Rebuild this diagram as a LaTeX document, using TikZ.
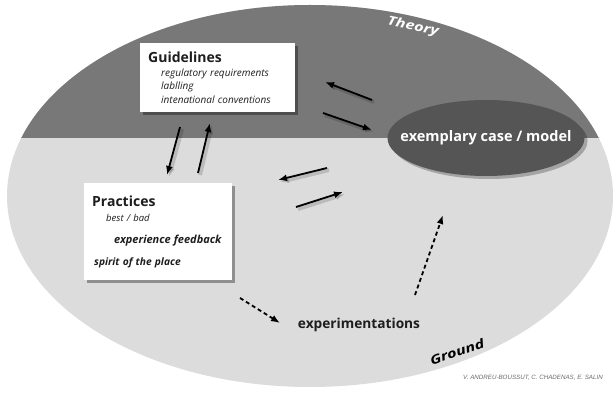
\documentclass[tikz,border=0pt]{standalone}
\usepackage{fontspec}
\setmainfont{Open Sans}
\newfontfamily\creditfont{Liberation Sans}
\newfontfamily\levelfont[FakeStretch=1.3]{Open Sans}
\usetikzlibrary{arrows.meta,shadows,shapes.geometric}
\definecolor{theorygray}{HTML}{787878}
\definecolor{groundgray}{HTML}{DCDCDC}
\definecolor{modelgray}{HTML}{555555}
\definecolor{ink}{HTML}{1E1E1E}
\definecolor{creditgray}{HTML}{6A6A6A}
\tikzset{
  card/.style={
    rectangle,
    fill=white,
    anchor=north west,
    align=left,
    inner xsep=8pt,
    inner ysep=4pt,
    text=ink,
    drop shadow={shadow xshift=3pt, shadow yshift=-3pt, fill=black, opacity=0.35}
  },
  modelnode/.style={
    ellipse,
    fill=modelgray,
    inner sep=0pt,
    minimum width=197pt,
    minimum height=76pt,
    drop shadow={shadow xshift=3pt, shadow yshift=-3pt, fill=black, opacity=0.25}
  },
  modeltext/.style={
    text=white,
    font=\fontsize{14.5}{16}\selectfont\bfseries
  },
  levellabel/.style={
    font=\levelfont\fontsize{12.5}{15}\selectfont\bfseries\itshape,
    inner sep=1pt
  },
  flow/.style={
    -{Latex[length=9pt,width=7pt]},
    draw=black,
    line width=1.8pt,
    preaction={draw=black, opacity=0.15, line width=4pt,
      transform canvas={shift={(2pt,-2pt)}}}
  },
  trialflow/.style={
    -{Latex[length=9pt,width=7pt]},
    draw=black,
    line width=1.8pt,
    dash pattern=on 4pt off 3pt
  }
}

\begin{document}
\begin{tikzpicture}[x=1pt, y=-1pt]
\useasboundingbox (0,0) rectangle (614,395);

% Background: ground (light) with the theory cap (dark).
\fill[groundgray] (310,196) ellipse [x radius=303pt, y radius=191pt];
\begin{scope}
  \clip (310,196) ellipse [x radius=303pt, y radius=191pt];
  \fill[theorygray] (0,0) rectangle (614,138);
\end{scope}

\node[levellabel, text=white, rotate=-12] (theory) at (413,27) {Theory};
\node[levellabel, text=black, rotate=19] (ground) at (457,352) {Ground};

% Boxes.
\node[card, text width=139pt, minimum height=69pt,
  font=\fontsize{10}{13.5}\selectfont\itshape] (guide) at (140,43) {
  {\fontsize{14}{14}\selectfont\bfseries\upshape Guidelines}\\
  \hspace*{13pt}regulatory requirements\\
  \hspace*{13pt}lablling\\
  \hspace*{13pt}intenational conventions
};
\node[card, text width=132pt, minimum height=97pt,
  font=\fontsize{9.5}{14}\selectfont\itshape] (practice) at (84,183) {
  {\fontsize{14}{14}\selectfont\bfseries\upshape Practices}\\[1pt]
  \hspace*{14pt}best / bad\\[8pt]
  \hspace*{22pt}{\fontsize{11}{14}\selectfont\bfseries experience feedback}\\[8pt]
  \hspace*{2pt}{\fontsize{10.2}{14}\selectfont\bfseries spirit of the place}\\[4pt]
};
\node[modelnode] (model) at (486,138) {};
\node[modeltext] (modellabel) at (model) {exemplary case / model};
\node[text=ink, font=\fontsize{13.7}{15}\selectfont\bfseries] (experiment)
  at (359,325) {experimentations};

\node[font=\creditfont\fontsize{6.2}{7}\selectfont\itshape, text=creditgray]
  (credit) at (533,378) {V. ANDREU-BOUSSUT, C. CHADENAS, E. SALIN};

% Arrow end points.
\coordinate (guide-down-s) at (180,127);
\coordinate (guide-down-e) at (167,175);
\coordinate (practice-up-s) at (198,173);
\coordinate (practice-up-e) at (210,123);
\coordinate (model-out-s) at (372,100);
\coordinate (model-out-e) at (325,82);
\coordinate (model-in-s) at (323,113);
\coordinate (model-in-e) at (372,130);
\coordinate (ground-out-s) at (327,168);
\coordinate (ground-out-e) at (278,180);
\coordinate (ground-in-s) at (296,207);
\coordinate (ground-in-e) at (343,192);
\coordinate (trial-s) at (240,298);
\coordinate (trial-e) at (280,323);
\coordinate (lift-s) at (415,295);
\coordinate (lift-e) at (443,215);

% Exchanges.
\draw[flow] (guide-down-s) -- (guide-down-e);
\draw[flow] (practice-up-s) -- (practice-up-e);
\draw[flow] (model-out-s) -- (model-out-e);
\draw[flow] (model-in-s) -- (model-in-e);
\draw[flow] (ground-out-s) -- (ground-out-e);
\draw[flow] (ground-in-s) -- (ground-in-e);
\draw[trialflow] (trial-s) -- (trial-e);
\draw[trialflow] (lift-s) -- (lift-e);

\end{tikzpicture}
\end{document}
